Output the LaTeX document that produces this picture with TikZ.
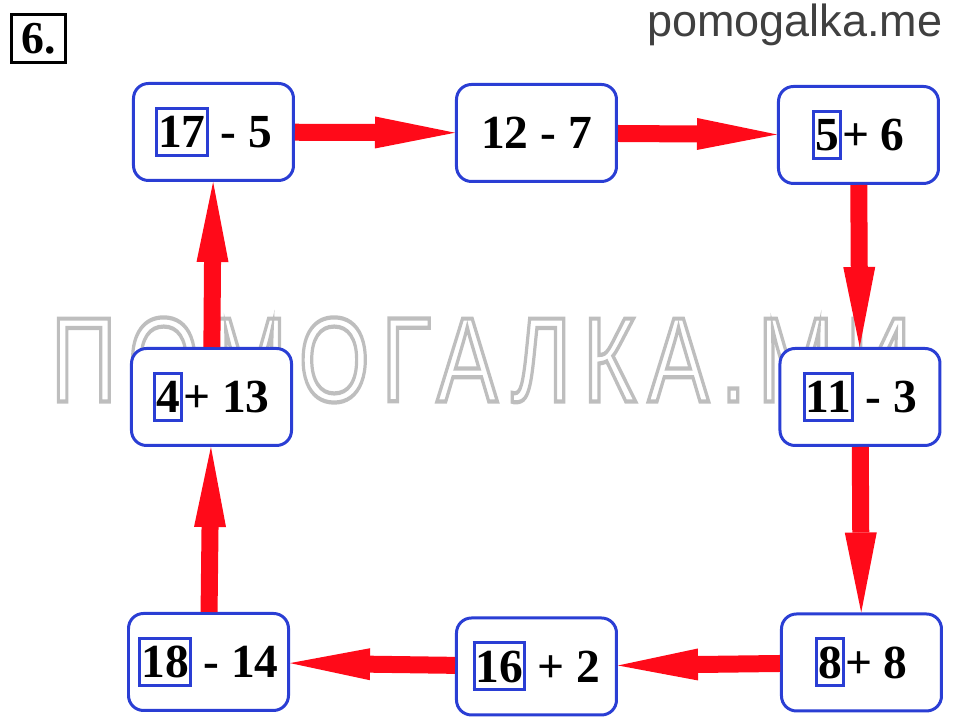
\documentclass[tikz,border=0pt]{standalone}
\usepackage{fontspec}
\setmainfont{Liberation Serif}
\newfontfamily\sitefont{Liberation Sans}
\newfontfamily\wmfont[LetterSpace=13]{Liberation Sans}
\usetikzlibrary{arrows.meta}

\definecolor{boxblue}{RGB}{42,62,212}
\definecolor{arrowred}{RGB}{255,10,25}
\definecolor{sitegray}{RGB}{64,64,64}
\definecolor{wmgray}{RGB}{190,190,190}

% blue frame round the missing number
\newcommand{\ans}[1]{{\setlength{\fboxsep}{0pt}\setlength{\fboxrule}{0.03cm}%
  \fcolorbox{boxblue}{white}{\rule[-0.06cm]{0pt}{0.44cm}#1}}}
% hollow letters for the watermark
\newcommand{\hollow}[1]{\special{pdf:literal direct 1 Tr 0.35 w}#1\special{pdf:literal direct 0 Tr}}

\begin{document}
\begin{tikzpicture}[
    ex/.style={draw=boxblue, fill=white, line width=0.03cm, rounded corners=0.15cm,
      minimum width=1.6cm, minimum height=0.97cm, inner sep=0pt,
      font=\fontsize{13.5}{16}\selectfont\bfseries},
    redarrow/.style={draw=arrowred, line width=0.17cm,
      -{Triangle[length=0.8cm, width=0.32cm, line width=0pt]}}]

  \useasboundingbox (0,0) rectangle (9.6,7.22);

  % watermark
  \node[inner sep=0pt, text=wmgray] (wm) at (4.81,3.62)
    {\resizebox{8.6cm}{0.84cm}{\wmfont\hollow{ПОМОГАЛКА.МИ}}};

  \node[draw=black, line width=0.03cm, minimum width=0.54cm, minimum height=0.48cm,
    inner sep=0pt, font=\fontsize{13}{14}\selectfont\bfseries] (num) at (0.385,6.835) {6.};
  \node[anchor=base east, inner sep=0pt, text=sitegray,
    font=\sitefont\fontsize{12.8}{15}\selectfont] (site) at (9.43,6.85) {pomogalka.me};

  \foreach \name/\x/\y/\txt in {a/2.135/5.90/{\ans{17} - 5}, b/5.365/5.89/{12 - 7},
      c/8.585/5.87/{\ans{5}+ 6}, d/8.60/3.25/{\ans{11} - 3}, e/8.615/0.595/{\ans{8}+ 8},
      f/5.365/0.555/{\ans{16} + 2}, g/2.085/0.60/{\ans{18} - 14}, h/2.115/3.25/{\ans{4}+ 13}} {
    \node[ex] (\name) at (\x,\y) {\txt};
  }

  \foreach \u/\v in {a/b, b/c, c/d, d/e, e/f, f/g, g/h, h/a}
    \draw[redarrow] (\u) -- (\v);

\end{tikzpicture}
\end{document}
